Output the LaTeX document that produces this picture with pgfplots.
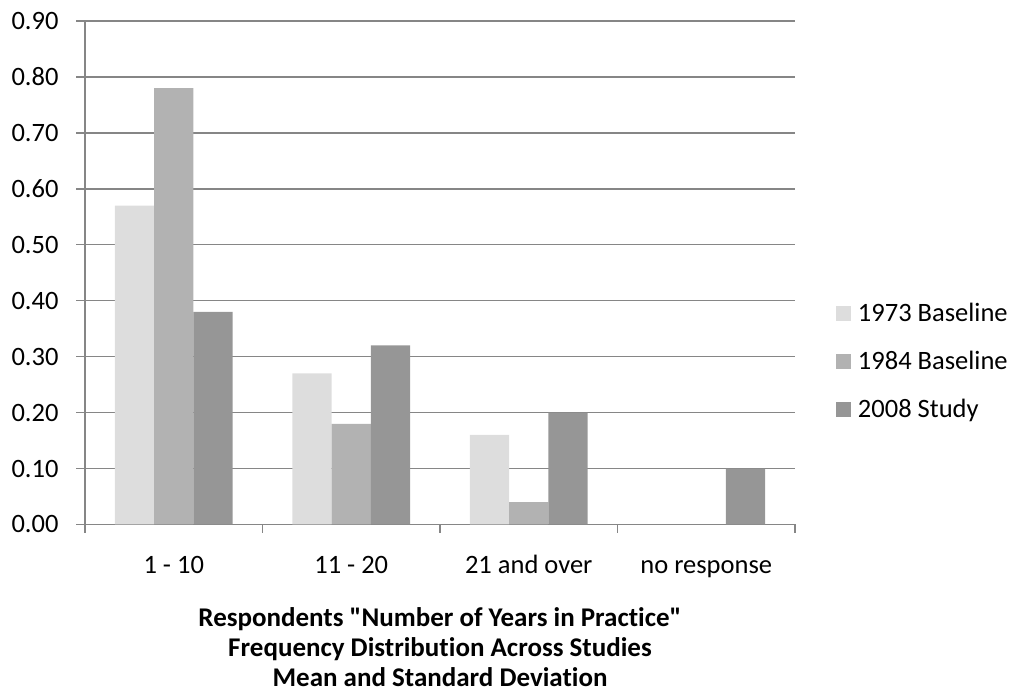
\documentclass[border=0pt]{standalone}
\usepackage{pgfplots}
\pgfplotsset{compat=1.18}
\usepackage{fontspec}
\setmainfont{Carlito}[Ligatures=NoCommon]
% plain family without the TeX input mapping, so " stays a straight quote
\newfontfamily\titlefont{Carlito}[Ligatures=NoCommon]
\definecolor{c73}{HTML}{DDDDDD}
\definecolor{c84}{HTML}{B2B2B2}
\definecolor{c08}{HTML}{969696}
\definecolor{gridc}{HTML}{868686}
\newcommand{\chartfont}{\fontsize{10.6}{12}\selectfont}
\begin{document}
\begin{tikzpicture}
\useasboundingbox (-34pt,-68.6pt) rectangle (370.8pt,209.8pt);
\begin{axis}[
  at={(0,0)}, anchor=south west,
  scale only axis, width=284pt, height=201.4pt,
  xmin=-0.5, xmax=3.5, ymin=0, ymax=0.9,
  axis lines*=left,
  axis line style={draw=gridc, line width=0.55pt},
  ymajorgrids,
  grid style={draw=gridc, line width=0.55pt},
  tick style={draw=gridc, line width=0.55pt},
  tick align=outside,
  major tick length=3.4pt,
  xtick={-0.5,0.5,1.5,2.5,3.5},
  xticklabels={},
  extra x ticks={0,1,2,3},
  extra x tick labels={1 - 10, 11 - 20, 21 and over, no response},
  extra x tick style={major tick length=0pt, grid=none,
    tick label style={anchor=base, inner sep=0pt, yshift=-19.8pt}},
  ytick={0,0.1,0.2,0.3,0.4,0.5,0.6,0.7,0.8,0.9},
  yticklabel style={anchor=east, inner sep=0pt, xshift=-7pt,
    /pgf/number format/.cd, fixed, fixed zerofill, precision=2},
  tick label style={font=\chartfont, text=black},
  /pgf/number format/assume math mode=true,
  ybar=0pt, bar width=15.7pt,
  xlabel={Respondents "Number of Years in Practice"\\Frequency Distribution Across Studies\\Mean and Standard Deviation},
  xlabel style={at={(rel axis cs:0.5,0)}, anchor=north, inner sep=0pt,
    yshift=-33.2pt, align=center, font=\titlefont\bfseries\fontsize{10.8}{12}\selectfont},
  legend style={at={(rel axis cs:1,1)}, anchor=north west, xshift=16.4pt,
    yshift=-112.8pt, draw=none, fill=none, inner sep=0pt, outer sep=0pt,
    font=\chartfont, row sep=9.2pt, column sep=2.8pt,
    nodes={inner sep=0pt, text height=7.5pt, text depth=2.5pt, anchor=base west}},
  legend cell align=left,
  legend image code/.code={\fill[#1] (0pt,0.4pt) rectangle (6pt,6.4pt);},
]
\addplot[fill=c73, draw=none] coordinates {(0,0.57) (1,0.27) (2,0.16)};
\addplot[fill=c84, draw=none] coordinates {(0,0.78) (1,0.18) (2,0.04)};
\addplot[fill=c08, draw=none] coordinates {(0,0.38) (1,0.32) (2,0.20) (3,0.10)};
\legend{1973 Baseline, 1984 Baseline, 2008 Study}
\end{axis}
\end{tikzpicture}
\end{document}
